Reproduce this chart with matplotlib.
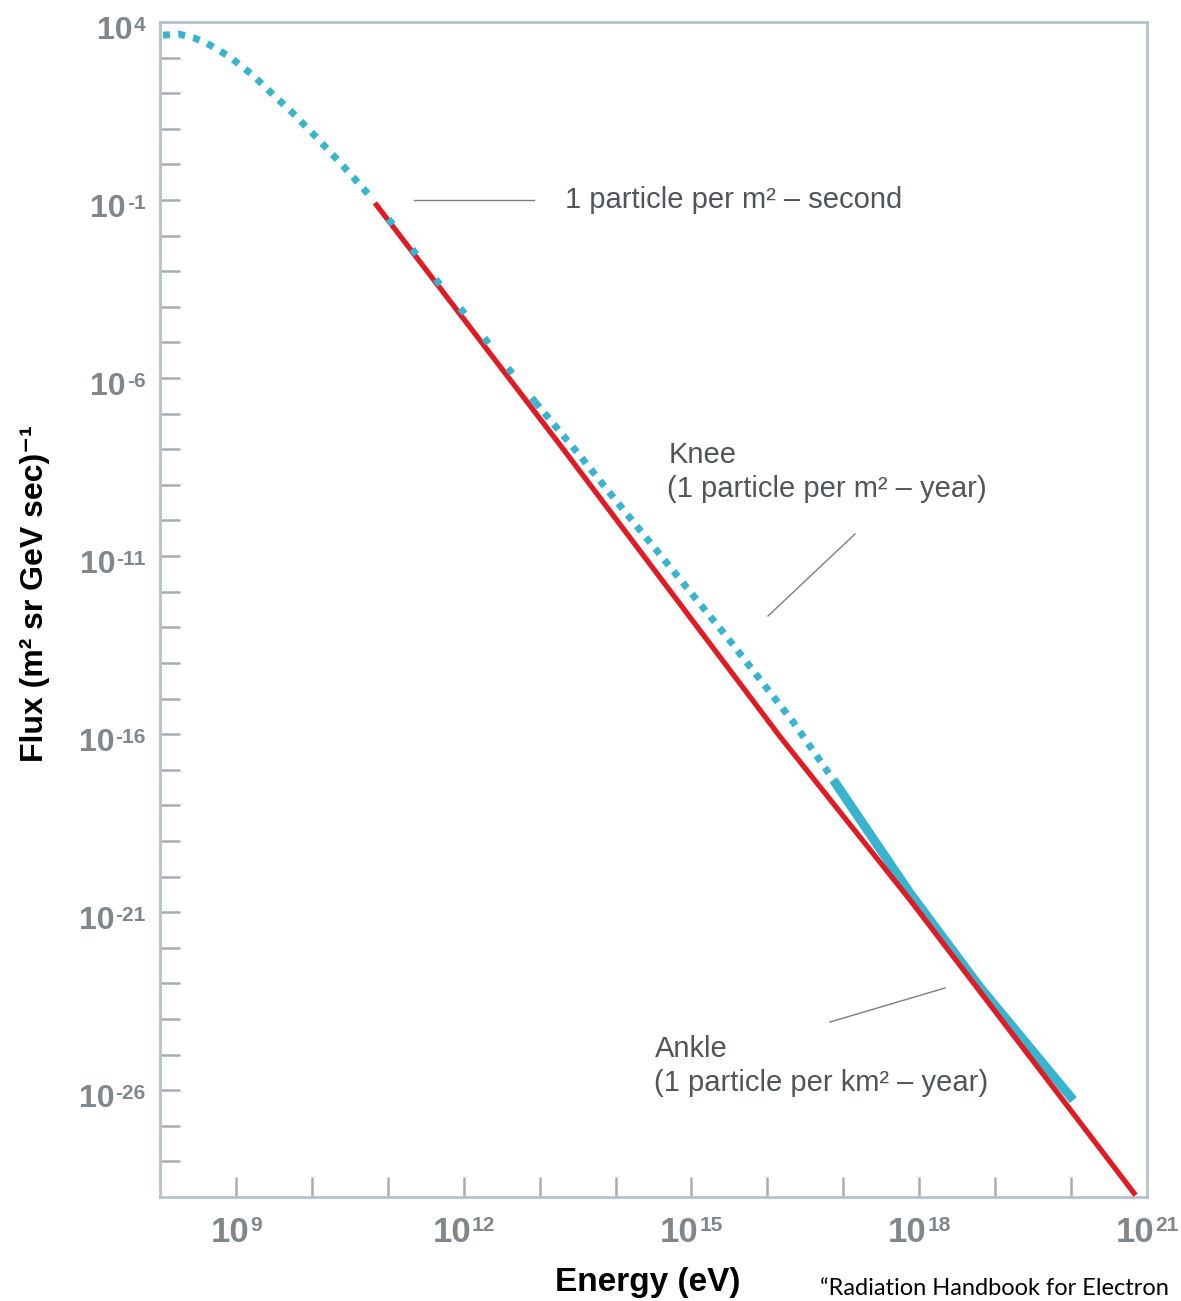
import matplotlib
matplotlib.use("Agg")
import matplotlib.pyplot as plt
from matplotlib.lines import Line2D
from matplotlib.offsetbox import TextArea, HPacker, AnnotationBbox
from matplotlib.ticker import NullLocator

# ---------------- data (log10 values) ----------------
# dotted cyan curve (spectrum, model part)
cyan_dot_logE = [8.04, 8.25, 8.44, 8.62, 8.92, 9.22, 9.48, 9.75, 10.02, 10.28,
                 10.55, 10.81]
cyan_dot_logF = [3.63, 3.66, 3.56, 3.40, 3.02, 2.51, 1.98, 1.44, 0.85, 0.26,
                 -0.37, -1.00]
# dotted cyan where it runs along the red line
cyan_mid_logE = [10.81, 11.25, 11.66, 12.11, 12.52, 12.94]
cyan_mid_logF = [-1.00, -2.18, -3.30, -4.43, -5.55, -6.67]
# dotted cyan above the knee
cyan_knee_logE = [12.94, 13.47, 14.02, 14.59, 15.47, 16.34, 16.87]
cyan_knee_logF = [-6.67, -8.02, -9.48, -10.97, -13.28, -15.66, -17.29]
# solid cyan (measured part)
cyan_solid_logE = [16.87, 17.88, 18.80, 20.03]
cyan_solid_logF = [-17.29, -20.47, -23.11, -26.28]
# red power law
red_logE = [10.83, 13.27, 16.17, 17.88, 20.85]
red_logF = [-1.08, -7.88, -16.08, -20.66, -28.95]

x_tick_exps = list(range(9, 21))
y_tick_exps = list(range(-28, 4))
x_label_exps = [9, 12, 15, 18, 21]
y_label_exps = [4, -1, -6, -11, -16, -21, -26]

xlabel = "Energy (eV)"
ylabel = "Flux (m² sr GeV sec)⁻¹"
note_second = "1 particle per m² – second"
note_knee = ["Knee", "(1 particle per m² – year)"]
note_ankle = ["Ankle", "(1 particle per km² – year)"]
source = "“Radiation Handbook for Electron"

# ---------------- styling ----------------
W, H = 1181, 1301
FONT = ["Liberation Sans", "DejaVu Sans"]
RED = "#e01b24"
CYAN = "#38b4cf"
SPINE = "#b3c3cc"
TICK = "#a9adb0"
LABEL_GRAY = "#7f868c"
NOTE_GRAY = "#4f555a"

plt.rcParams["font.family"] = FONT

fig = plt.figure(figsize=(W / 100, H / 100), dpi=100)
fig.patch.set_facecolor("white")
L, R, T, B = 160, 1147, 22, 1197
ax = fig.add_axes([L / W, 1 - B / H, (R - L) / W, (B - T) / H])
ax.set_xscale("log")
ax.set_yscale("log")
ax.set_xlim(1e8, 1e21)
ax.set_ylim(1e-29, 1e4)

def p10(v):
    return [10.0 ** x for x in v]

# curves
ax.plot(p10(red_logE), p10(red_logF), color=RED, lw=3.8, solid_capstyle="butt",
        zorder=3)
ax.plot(p10(cyan_dot_logE), p10(cyan_dot_logF), color=CYAN, lw=5.0,
        linestyle=(0, (1, 1.2)), dash_capstyle="butt", zorder=4)
ax.plot(p10(cyan_mid_logE), p10(cyan_mid_logF), color=CYAN, lw=5.0,
        linestyle=(2, (1, 4.5)), dash_capstyle="butt", zorder=4)
ax.plot(p10(cyan_knee_logE), p10(cyan_knee_logF), color=CYAN, lw=5.0,
        linestyle=(0, (1, 1.1)), dash_capstyle="butt", zorder=4)
ax.plot(p10(cyan_solid_logE), p10(cyan_solid_logF), color=CYAN, lw=6.6,
        solid_capstyle="butt", zorder=2)

# axes styling
for s in ax.spines.values():
    s.set_color(SPINE)
    s.set_linewidth(2.0)
ax.set_xticks(p10(x_tick_exps))
ax.set_yticks(p10(y_tick_exps))
ax.xaxis.set_minor_locator(NullLocator())
ax.yaxis.set_minor_locator(NullLocator())
ax.tick_params(axis="both", which="major", direction="in", length=14.5,
               width=1.8, color=TICK, labelbottom=False, labelleft=False)

def sci_box(exp, base_size, sup_size):
    tp = dict(fontsize=base_size, color=LABEL_GRAY, fontweight="bold",
              family=FONT)
    sp = dict(fontsize=sup_size, color=LABEL_GRAY, fontweight="bold",
              family=FONT)
    return HPacker(children=[TextArea("10", textprops=tp),
                             TextArea(str(exp), textprops=sp)],
                   align="top", pad=0, sep=0.5)

for e in x_label_exps:
    ab = AnnotationBbox(sci_box(e, 25, 15), (10.0 ** e, 0),
                        xycoords=ax.get_xaxis_transform(),
                        xybox=(0, -13.5), boxcoords="offset points",
                        box_alignment=(0.5, 1), frameon=False, pad=0,
                        annotation_clip=False)
    ax.add_artist(ab)

for e in y_label_exps:
    ab = AnnotationBbox(sci_box(e, 23, 15), (0, 10.0 ** e),
                        xycoords=ax.get_yaxis_transform(),
                        xybox=(-10.5, 4.5), boxcoords="offset points",
                        box_alignment=(1, 1), frameon=False, pad=0,
                        annotation_clip=False)
    ax.add_artist(ab)

# axis titles
fig.text(648 / W, 1 - 1282 / H, xlabel, ha="center", va="center",
         fontsize=24, fontweight="bold", color="black", family=FONT)
fig.text(35 / W, 1 - 594 / H, ylabel, ha="center", va="center",
         rotation=90, fontsize=23, fontweight="bold", color="black",
         family=FONT)

# annotations
def fline(x1, y1, x2, y2):
    fig.add_artist(Line2D([x1 / W, x2 / W], [1 - y1 / H, 1 - y2 / H],
                          color="#7a7f83", lw=1.0))

fline(414, 200, 534, 200)
fig.text(565 / W, 1 - 208 / H, note_second, ha="left", va="baseline",
         fontsize=21, color=NOTE_GRAY, family=FONT)

fig.text(669 / W, 1 - 463 / H, note_knee[0], ha="left", va="baseline",
         fontsize=21, color=NOTE_GRAY, family=FONT)
fig.text(667 / W, 1 - 497 / H, note_knee[1], ha="left", va="baseline",
         fontsize=21, color=NOTE_GRAY, family=FONT)
fline(768, 616, 855, 534)

fig.text(655 / W, 1 - 1057 / H, note_ankle[0], ha="left", va="baseline",
         fontsize=21, color=NOTE_GRAY, family=FONT)
fig.text(654 / W, 1 - 1091 / H, note_ankle[1], ha="left", va="baseline",
         fontsize=21, color=NOTE_GRAY, family=FONT)
fline(830, 1022, 945, 988)

fig.text(820 / W, 1 - 1295 / H, source, ha="left", va="baseline",
         fontsize=17, color="black", family=["Lato", "DejaVu Sans"])

fig.savefig("out.png", dpi=100, facecolor="white")
